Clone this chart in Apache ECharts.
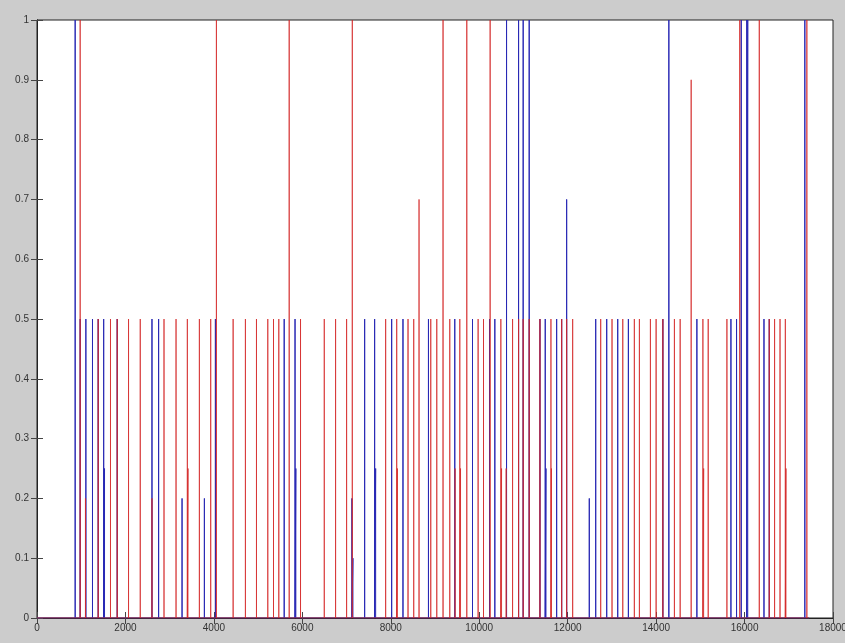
<!DOCTYPE html>
<html>
<head>
<meta charset="utf-8">
<script src="https://cdn.jsdelivr.net/npm/echarts@6/dist/echarts.min.js"></script>
<style>
  html, body { margin: 0; padding: 0; background: #cccccc; }
  #chart { width: 845px; height: 643px; }
</style>
</head>
<body>
<div id="chart"></div>
<script>
// Event positions (sample index) and amplitudes for the two signals
const redX = [976, 1096, 1384, 1662, 1814, 2070, 2335, 2600, 2872, 3144, 3400, 3415, 3672, 3928, 4057,
  4435, 4713, 4963, 5219, 5348, 5468, 5703, 5959, 6496, 6752, 7001, 7130, 7884, 8134, 8150, 8390, 8519,
  8639, 8904, 9040, 9182, 9334, 9454, 9561, 9577, 9719, 9975, 10097, 10247, 10489, 10505, 10609, 10754,
  10890, 10994, 11130, 11373, 11622, 11633, 11864, 11977, 12113, 12747, 13003, 13246, 13508, 13622,
  13871, 14000, 14152, 14414, 14544, 14793, 15058, 15075, 15178, 15601, 15891, 16333, 16559, 16679,
  16802, 16922, 16937, 17409];
const redY = [1, 0.2, 0.5, 0.5, 0.5, 0.5, 0.5, 0.2, 0.5, 0.5, 0.5, 0.25, 0.5, 0.5, 1,
  0.5, 0.5, 0.5, 0.5, 0.5, 0.5, 1, 0.5, 0.5, 0.5, 0.5, 1, 0.5, 0.5, 0.25, 0.5, 0.5,
  0.7, 0.5, 0.5, 1, 0.5, 0.25, 0.5, 0.25, 1, 0.5, 0.5, 1, 0.5, 0.25, 0.25, 0.5,
  0.5, 0.5, 0.5, 0.5, 0.5, 0.25, 0.5, 0.5, 0.5, 0.5, 0.5, 0.5, 0.5, 0.5,
  0.5, 0.5, 0.5, 0.5, 0.5, 0.9, 0.5, 0.25, 0.5, 0.5, 1, 1, 0.5, 0.5,
  0.5, 0.5, 0.25, 1];
const redEnd = 17460;

const blueX = [863, 976, 1105, 1255, 1384, 1508, 1527, 1814, 2600, 2750, 3280, 3785, 4034, 5590, 5835,
  5853, 7121, 7144, 7409, 7635, 7658, 8020, 8276, 8852, 9447, 9848, 10233, 10353, 10618, 10890, 10994,
  11130, 11373, 11493, 11509, 11751, 11864, 11977, 12489, 12634, 12883, 13132, 13373, 14152, 14288,
  14922, 15692, 15819, 15925, 16050, 16072, 16439, 16559, 17363];
const blueY = [1, 0.5, 0.5, 0.5, 0.5, 0.5, 0.25, 0.5, 0.5, 0.5, 0.2, 0.2, 0.5, 0.5, 0.5,
  0.25, 0.2, 0.1, 0.5, 0.5, 0.25, 0.5, 0.5, 0.5, 0.5, 0.5, 0.5, 0.5, 1, 1, 1,
  1, 0.5, 0.5, 0.25, 0.5, 0.5, 0.7, 0.2, 0.5, 0.5, 0.5, 0.5, 0.5, 1,
  0.5, 0.5, 0.5, 1, 1, 1, 0.5, 0.5, 1];
const blueEnd = 17460;

const xTicks = [0, 2000, 4000, 6000, 8000, 10000, 12000, 14000, 16000, 18000];

// Turn each event into a vertical spike on a zero baseline
function spikeTrace(xs, ys, end) {
  const pts = [[0, 0]];
  xs.forEach((x, i) => {
    pts.push([x, 0], [x, ys[i]], [x, 0]);
  });
  pts.push([end, 0]);
  return pts;
}

const labelFont = { fontFamily: 'Liberation Sans, Arial, sans-serif', fontSize: 10, color: '#333' };
const tickStyle = { inside: true, length: 6, lineStyle: { color: '#444', width: 1 } };

const chart = echarts.init(document.getElementById('chart'), null, { renderer: 'canvas' });
chart.setOption({
  animation: false,
  backgroundColor: '#cccccc',
  grid: {
    left: 37, right: 12, top: 20, bottom: 25,
    outerBoundsMode: 'none', containLabel: false,
    show: true, backgroundColor: '#ffffff', borderColor: '#222', borderWidth: 1
  },
  xAxis: [
    {
      type: 'value', position: 'bottom', min: 0, max: xTicks[xTicks.length - 1], interval: 2000,
      axisLine: { show: true, lineStyle: { color: '#222' } },
      axisTick: tickStyle,
      splitLine: { show: false },
      axisLabel: Object.assign({ margin: 5, formatter: v => String(v) }, labelFont)
    },
    {
      type: 'value', position: 'top', min: 0, max: xTicks[xTicks.length - 1], interval: 2000,
      axisLine: { show: true, lineStyle: { color: '#222' } },
      axisTick: tickStyle,
      splitLine: { show: false },
      axisLabel: { show: false }
    }
  ],
  yAxis: [
    {
      type: 'value', position: 'left', min: 0, max: 1, interval: 0.1,
      axisLine: { show: true, lineStyle: { color: '#222' } },
      axisTick: tickStyle,
      splitLine: { show: false },
      axisLabel: Object.assign({ margin: 8 }, labelFont)
    },
    {
      type: 'value', position: 'right', min: 0, max: 1, interval: 0.1,
      axisLine: { show: true, lineStyle: { color: '#222' } },
      axisTick: tickStyle,
      splitLine: { show: false },
      axisLabel: { show: false }
    }
  ],
  series: [
    {
      type: 'line', name: 'blue', xAxisIndex: 0, yAxisIndex: 0,
      data: spikeTrace(blueX, blueY, blueEnd),
      showSymbol: false, symbol: 'none',
      lineStyle: { color: '#2828b4', width: 1 },
      emphasis: { disabled: true }
    },
    {
      type: 'line', name: 'red', xAxisIndex: 0, yAxisIndex: 0,
      data: spikeTrace(redX, redY, redEnd),
      showSymbol: false, symbol: 'none',
      lineStyle: { color: '#d42828', width: 1, opacity: 0.75 },
      emphasis: { disabled: true }
    }
  ]
});
</script>
</body>
</html>
